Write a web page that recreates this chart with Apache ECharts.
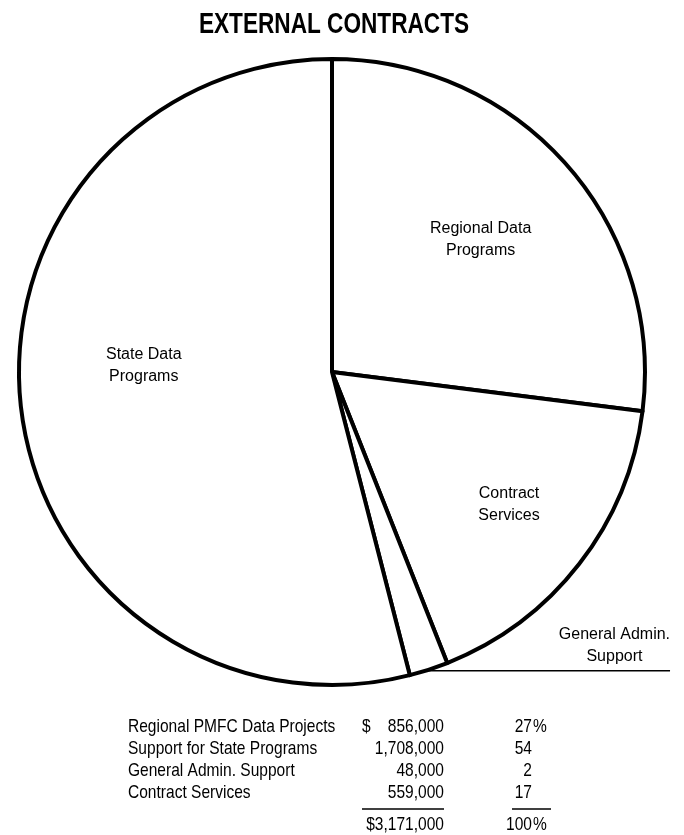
<!DOCTYPE html>
<html>
<head>
<meta charset="utf-8">
<script src="https://cdn.jsdelivr.net/npm/echarts@6/dist/echarts.min.js"></script>
<style>
  html, body { margin: 0; padding: 0; background: #fff; }
  #chart { width: 684px; height: 835px; }
</style>
</head>
<body>
<div id="chart"></div>
<script>
// Pie slices, clockwise from 12 o'clock (percent of external contracts)
const sliceNames = ['Regional Data\nPrograms', 'Contract\nServices', 'General Admin.\nSupport', 'State Data\nPrograms'];
const slicePercents = [27, 17, 2, 54];

// Summary table under the pie
const tableItems = ['Regional PMFC Data Projects', 'Support for State Programs', 'General Admin. Support', 'Contract Services'];
const tableAmounts = [856000, 1708000, 48000, 559000];
const tablePercents = [27, 54, 2, 17];
const totalAmount = 3171000;
const totalPercent = 100;

const FONT = '"Liberation Sans", Arial, Helvetica, sans-serif';
// Condensed look for the title and the table text
const NARROW = 0.84;

// Nudges for the inside slice labels (pixels, relative to the default half-radius spot)
const insideLabelShift = { 0: [29, -27], 1: [51, 35], 3: [-30, -26] };

const fmt = v => v.toLocaleString('en-US');

function txt(text, x, y, align, extra) {
  return Object.assign({
    type: 'text', x: x, y: y, scaleX: NARROW, scaleY: 1,
    style: {
      text: text, fill: '#000', align: align, textAlign: align,
      verticalAlign: 'middle', textVerticalAlign: 'middle',
      fontFamily: FONT, fontSize: 18.5
    }
  }, extra || {});
}

// Table layout
const colName = 128, colAmountRight = 444, colDollar = 362, colPctRight = 532;
const rowY = [727, 749, 771, 793];
const ruleY = 809, totalY = 825;

const graphics = [];
// Title
graphics.push({
  type: 'text', x: 334, y: 25, scaleX: 0.78, scaleY: 1,
  style: { text: 'EXTERNAL CONTRACTS', fill: '#000', align: 'center', textAlign: 'center',
    verticalAlign: 'middle', textVerticalAlign: 'middle',
    fontFamily: FONT, fontWeight: 'bold', fontSize: 29 }
});
tableItems.forEach((name, i) => {
  graphics.push(txt(name, colName, rowY[i], 'left'));
  graphics.push(txt(fmt(tableAmounts[i]), colAmountRight, rowY[i], 'right'));
  graphics.push(txt(String(tablePercents[i]), colPctRight, rowY[i], 'right'));
});
// Currency sign and percent sign on the first row
graphics.push(txt('$', colDollar, rowY[0], 'left'));
graphics.push(txt('%', colPctRight + 1, rowY[0], 'left'));
// Rules above the totals
graphics.push({ type: 'line', shape: { x1: colDollar, y1: ruleY, x2: colAmountRight, y2: ruleY }, style: { stroke: '#000', lineWidth: 1.5 } });
graphics.push({ type: 'line', shape: { x1: 512, y1: ruleY, x2: 551, y2: ruleY }, style: { stroke: '#000', lineWidth: 1.5 } });
// Totals
graphics.push(txt('$' + fmt(totalAmount), colAmountRight, totalY, 'right'));
graphics.push(txt(String(totalPercent), colPctRight, totalY, 'right'));
graphics.push(txt('%', colPctRight + 1, totalY, 'left'));

const pieData = sliceNames.map((name, i) => {
  const item = { name: name, value: slicePercents[i] };
  if (i === 2) {
    // Small slice: label sits outside on a long horizontal leader
    item.label = { position: 'outside' };
    item.labelLine = { show: true, length: 1, length2: 241, smooth: false,
      lineStyle: { color: '#000', width: 1.5 } };
  }
  return item;
});

const chart = echarts.init(document.getElementById('chart'), null, { renderer: 'canvas' });
chart.setOption({
  animation: false,
  backgroundColor: '#fff',
  graphic: graphics,
  series: [{
    type: 'pie',
    center: [332, 372],
    radius: 313,
    startAngle: 90,
    clockwise: true,
    silent: true,
    avoidLabelOverlap: false,
    itemStyle: { color: '#fff', borderColor: '#000', borderWidth: 4 },
    label: {
      show: true, position: 'inside', color: '#000',
      fontFamily: FONT, fontSize: 16, lineHeight: 22,
      formatter: p => p.name
    },
    labelLine: { show: false },
    labelLayout: function (p) {
      const r = p.labelRect;
      if (p.dataIndex === 2 && p.labelLinePoints) {
        const pts = p.labelLinePoints;
        const end = pts[pts.length - 1];
        return { x: end[0] - r.width / 2, y: end[1] - 3, align: 'center', verticalAlign: 'bottom', labelLinePoints: pts };
      }
      const s = insideLabelShift[p.dataIndex] || [0, 0];
      return { x: r.x + r.width / 2 + s[0], y: r.y + r.height / 2 + s[1], align: 'center', verticalAlign: 'middle' };
    },
    data: pieData
  }]
});
</script>
</body>
</html>
